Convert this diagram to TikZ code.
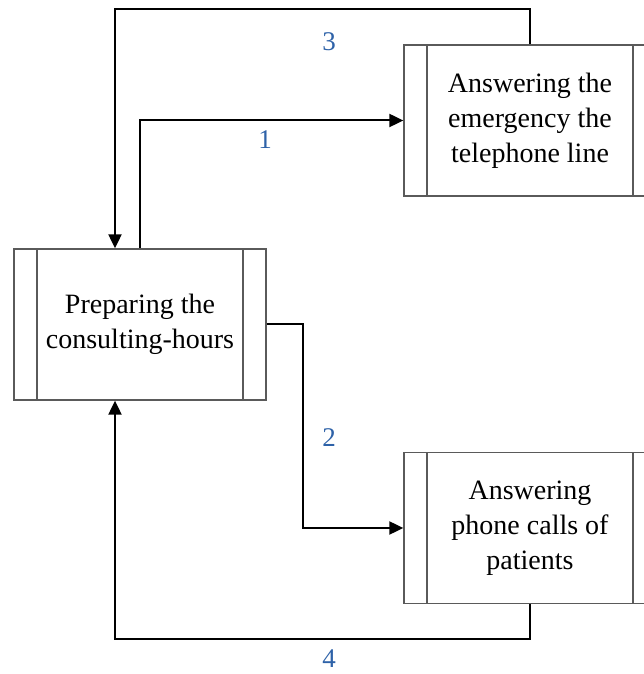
\documentclass[tikz,border=0pt]{standalone}
\usepackage{fontspec}
\setmainfont{Liberation Serif}
\usetikzlibrary{arrows.meta}
\definecolor{boxgray}{HTML}{5A5A5A}
\definecolor{labelblue}{HTML}{2E62A8}
\begin{document}
\begin{tikzpicture}[x=1pt,y=1pt,
  procbox/.style={draw=boxgray, line width=1.3pt, fill=white,
    minimum width=252pt, minimum height=151pt, inner sep=0pt,
    align=center, font=\fontsize{28}{35}\selectfont,
    path picture={\draw[boxgray, line width=1.3pt]
      ([xshift=23pt]path picture bounding box.north west) --
      ([xshift=23pt]path picture bounding box.south west)
      ([xshift=-23pt]path picture bounding box.north east) --
      ([xshift=-23pt]path picture bounding box.south east);}},
  conn/.style={line width=2pt, -{Triangle[length=14pt,width=13pt]}},
  flowlabel/.style={text=labelblue, font=\fontsize{27}{30}\selectfont, inner sep=0pt}]
\useasboundingbox[clip] (0,0) rectangle (644,674);

\node[procbox] (prep) at (140,349.5) {Preparing the\\consulting-hours};
\node[procbox] (emerg) at (530,553.5) {Answering the\\emergency the\\telephone line};
\node[procbox] (calls) at (530,146) {Answering\\phone calls of\\patients};

\coordinate (topline) at (0,665);
\coordinate (bottomline) at (0,35);

% flow 1: preparing -> emergency line
\draw[conn] (prep.north) |- (emerg.west);
% flow 2: preparing -> phone calls
\draw[conn] (prep.east) -- ++(36,0) |- (calls.west);
% flow 3: emergency line -> preparing
\draw[conn] (emerg.north) -- (emerg.north |- topline) -| ([xshift=-25pt]prep.north);
% flow 4: phone calls -> preparing
\draw[conn] (calls.south) -- (calls.south |- bottomline) -| ([xshift=-25pt]prep.south);

\node[flowlabel] (l1) at (265,534) {1};
\node[flowlabel] (l2) at (329,236) {2};
\node[flowlabel] (l3) at (329,632) {3};
\node[flowlabel] (l4) at (329,15) {4};
\end{tikzpicture}
\end{document}
